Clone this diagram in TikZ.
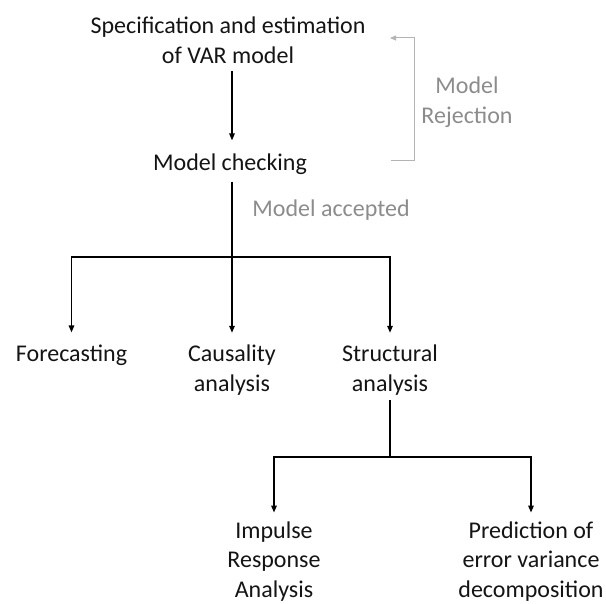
\documentclass[tikz,border=0pt]{standalone}
\usepackage{fontspec}
\setmainfont{Carlito}
\usetikzlibrary{arrows.meta}
\definecolor{txt}{HTML}{141414}
\definecolor{gtxt}{HTML}{8C8C8C}
\definecolor{gln}{HTML}{B4B4B4}
\begin{document}
\begin{tikzpicture}[x=1pt,y=-1pt,
  lbl/.style={inner sep=0pt, align=center, text=txt, font=\fontsize{24}{29.5}\selectfont},
  glbl/.style={lbl, text=gtxt},
  conn/.style={line width=1.4pt, draw=black},
  arr/.style={conn, -{Triangle[length=7pt,width=5.5pt]}},
  garr/.style={line width=1pt, draw=gln, -{Triangle[length=6pt,width=5pt]}}]
\useasboundingbox (0,0) rectangle (606,604);
\node[lbl] (spec) at (228,40.5) {Specification and estimation\\of VAR model};
\node[lbl] (chk) at (230,164) {Model checking};
\node[glbl] (rej) at (467,102) {Model\\Rejection};
\node[glbl] (acc) at (331,210) {Model accepted};
\node[lbl] (fore) at (71.5,355) {Forecasting};
\node[lbl] (caus) at (232,370) {Causality\\analysis};
\node[lbl] (str) at (390,370) {Structural\\analysis};
\node[lbl] (imp) at (274,561.5) {Impulse\\Response\\Analysis};
\node[lbl] (pred) at (531,561.5) {Prediction of\\error variance\\decomposition};
\coordinate (j1) at (232,257);
\coordinate (j2) at (390,457);
\coordinate (rb) at (391,161);
\coordinate (rt) at (390,38);
\draw[arr] ([yshift=-7pt]spec.south -| j1) -- ([yshift=13pt]chk.north -| j1);
\draw[conn] ([yshift=-7pt]chk.south -| j1) -- (j1);
\draw[arr] (j1) -| ([yshift=12pt]fore.north);
\draw[arr] (j1) -- ([yshift=12pt]caus.north);
\draw[arr] (j1) -| ([yshift=12pt]str.north);
\draw[conn] ([yshift=-5pt]str.south) -- (j2);
\draw[arr] (j2) -| ([yshift=9pt]imp.north);
\draw[arr] (j2) -| ([yshift=9pt]pred.north);
\draw[garr] (rb) -- (414,161) -- (414,38) -- (rt);
\end{tikzpicture}
\end{document}
